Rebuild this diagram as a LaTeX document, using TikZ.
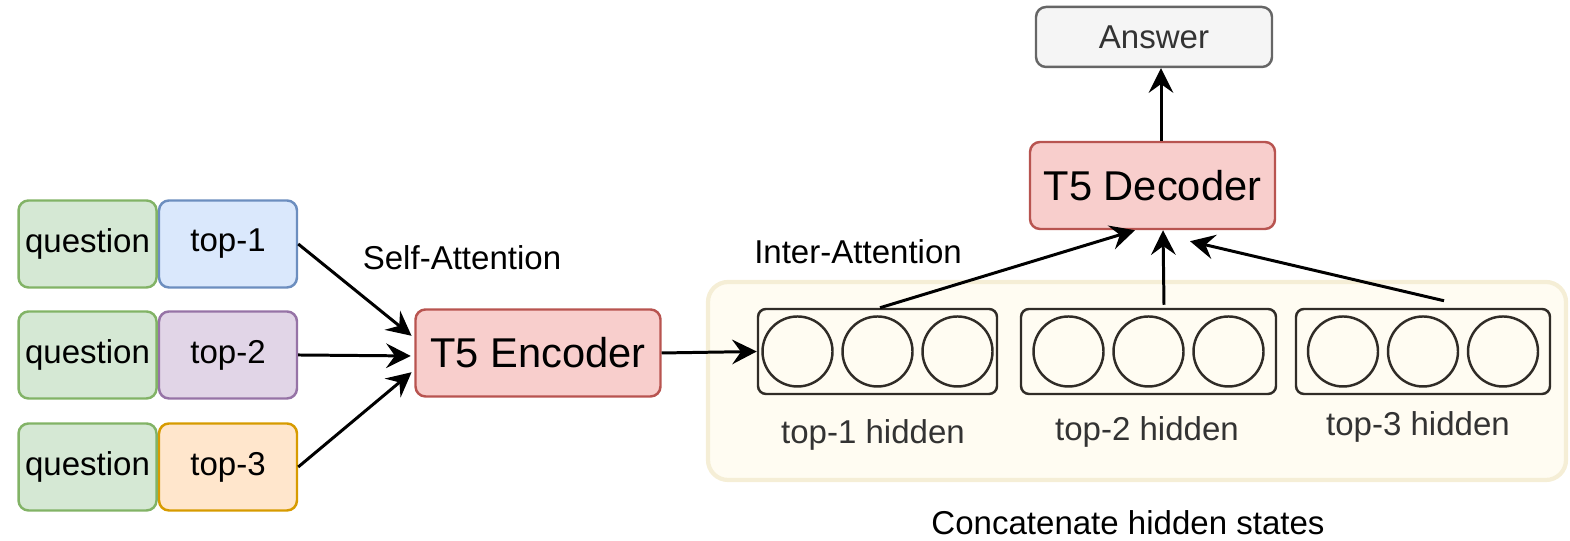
\documentclass[tikz,border=0pt]{standalone}
\usepackage{fontspec}
\setmainfont{Liberation Sans}
\usepackage{xcolor}
\usetikzlibrary{arrows.meta, positioning, calc}

\definecolor{qfill}{HTML}{D5E8D4}
\definecolor{qline}{HTML}{82B366}
\definecolor{onefill}{HTML}{DAE8FC}
\definecolor{oneline}{HTML}{6C8EBF}
\definecolor{twofill}{HTML}{E1D5E7}
\definecolor{twoline}{HTML}{9673A6}
\definecolor{threefill}{HTML}{FFE6CC}
\definecolor{threeline}{HTML}{D79B00}
\definecolor{tfivefill}{HTML}{F8CECC}
\definecolor{tfiveline}{HTML}{B85450}
\definecolor{ansfill}{HTML}{F5F5F5}
\definecolor{ansline}{HTML}{666666}
\definecolor{catfill}{HTML}{FFFCF2}
\definecolor{catline}{HTML}{F5EED6}
\definecolor{hidline}{HTML}{302C27}
\definecolor{softtext}{HTML}{333333}

\tikzset{
    txt/.style={font=\fontsize{9.4}{11}\selectfont},
    box/.style={txt, draw, rounded corners=0.1cm, line width=0.7pt, inner sep=0pt,
        minimum width=1.38cm, minimum height=0.87cm},
    qbox/.style={box, fill=qfill, draw=qline},
    tfive/.style={box, fill=tfivefill, draw=tfiveline, minimum width=2.45cm,
        font=\fontsize{11.85}{14}\selectfont},
    hidbox/.style={draw=hidline, rounded corners=0.08cm, line width=0.7pt,
        minimum height=0.85cm, inner sep=0pt},
    hidlbl/.style={txt, text=softtext},
}

\begin{document}
\begin{tikzpicture}[>={Stealth[length=7pt, width=7pt, inset=2.5pt]}, line width=0.85pt]
    %\draw[step=1cm, gray, very thin] (0, 0) grid (15.7, 5.41);
    \useasboundingbox (0, 0) rectangle (15.7, 5.41);

    % passages paired with the question
    \node[box, fill=onefill, draw=oneline] (top1) at (2.28, 2.97) {top-1};
    \node[box, fill=twofill, draw=twoline] (top2) at (2.28, 1.86) {top-2};
    \node[box, fill=threefill, draw=threeline] (top3) at (2.28, 0.74) {top-3};
    \node[qbox, left=0pt of top1] (q1) {question};
    \node[qbox, left=0pt of top2] (q2) {question};
    \node[qbox, left=0pt of top3] (q3) {question};

    \node[tfive] (enc) at (5.38, 1.88) {T5 Encoder};
    \node[tfive] (dec) at (11.525, 3.555) {T5 Decoder};
    \node[box, fill=ansfill, draw=ansline, text=softtext, minimum width=2.36cm,
        minimum height=0.6cm] (ans) at (11.54, 5.04) {Answer};

    % concatenated hidden states
    \node[draw=catline, fill=catfill, rounded corners=0.2cm, line width=1.2pt,
        minimum width=8.58cm, minimum height=1.98cm] (concat) at (11.37, 1.60) {};
    \node[hidbox, minimum width=2.39cm] (h1) at (8.775, 1.895) {};
    \node[hidbox, minimum width=2.55cm] (h2) at (11.485, 1.895) {};
    \node[hidbox, minimum width=2.54cm] (h3) at (14.23, 1.895) {};
    \foreach \h in {h1, h2, h3}
        \foreach \dx in {-0.8, 0, 0.8}
            \draw[hidline, line width=0.7pt] ($(\h.center) + (\dx, 0)$) circle (0.35);

    \node[hidlbl] (l1) at (8.73, 1.06) {top-1 hidden};
    \node[hidlbl] (l2) at (11.47, 1.09) {top-2 hidden};
    \node[hidlbl] (l3) at (14.18, 1.14) {top-3 hidden};

    \node[txt] (self) at (4.62, 2.83) {Self-Attention};
    \node[txt] (inter) at (8.58, 2.89) {Inter-Attention};
    \node[txt] (cat) at (11.28, 0.18) {Concatenate hidden states};

    % encoder side
    \draw[->, shorten >=1pt] (top1.east) -- ([yshift=0.15cm]enc.west);
    \draw[->, shorten >=1pt] (top2.east) -- ([yshift=-0.03cm]enc.west);
    \draw[->, shorten >=1pt] (top3.east) -- ([yshift=-0.17cm]enc.west);
    \draw[->] (enc.east) -- (h1.west);

    % decoder side
    \draw[->] ([xshift=0.025cm]h1.north) -- ([xshift=-0.175cm]dec.south);
    \draw[->] ([xshift=0.155cm, yshift=0.03cm]h2.north) -- ([xshift=0.105cm]dec.south);
    \draw[->] ([xshift=0.21cm, yshift=0.07cm]h3.north) -- ([xshift=0.375cm, yshift=-0.11cm]dec.south);
    \draw[->] ([xshift=0.085cm]dec.north) -- ([xshift=0.07cm]ans.south);

\end{tikzpicture}
\end{document}
